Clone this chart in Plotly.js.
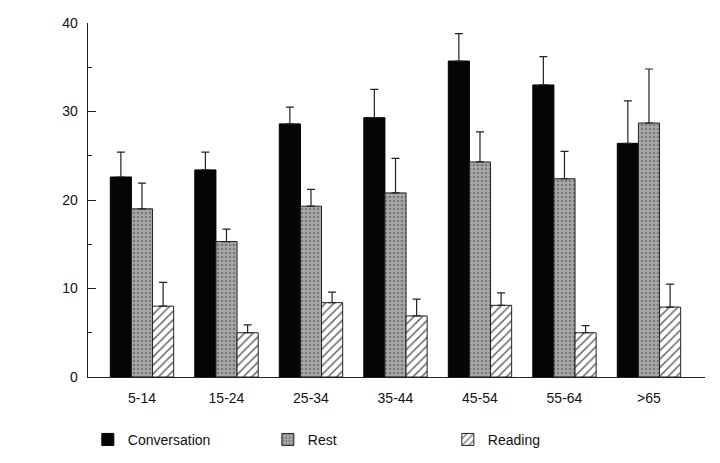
<!DOCTYPE html>
<html>
<head>
<meta charset="utf-8">
<script src="https://cdn.plot.ly/plotly-3.0.1.min.js"></script>
<style>html,body{margin:0;padding:0;background:#fff;}#chart{width:720px;height:463px;}</style>
</head>
<body>
<div id="chart"></div>
<script>
const ageGroups = ['5-14', '15-24', '25-34', '35-44', '45-54', '55-64', '>65'];
const conversation = [22.6, 23.4, 28.6, 29.3, 35.7, 33.0, 26.4];
const conversationErr = [2.8, 2.0, 1.9, 3.2, 3.1, 3.2, 4.8];
const rest = [19.0, 15.3, 19.3, 20.8, 24.3, 22.4, 28.7];
const restErr = [2.9, 1.4, 1.9, 3.9, 3.4, 3.1, 6.1];
const reading = [8.0, 5.0, 8.4, 6.9, 8.1, 5.0, 7.9];
const readingErr = [2.7, 0.9, 1.2, 1.9, 1.4, 0.8, 2.6];
const zeros = ageGroups.map(() => 0);

const errStyle = (arr) => ({type: 'data', symmetric: false, array: arr, arrayminus: zeros,
  color: '#222', thickness: 1.2, width: 4});

const traces = [
  {type: 'bar', name: 'Conversation', x: ageGroups, y: conversation,
   marker: {color: '#050505', line: {color: '#000', width: 1}},
   error_y: errStyle(conversationErr)},
  {type: 'bar', name: 'Rest', x: ageGroups, y: rest,
   marker: {color: '#a2a2a2', line: {color: '#222', width: 1},
            pattern: {shape: '.', fgcolor: '#7a7a7a', bgcolor: '#a8a8a8', size: 4, solidity: 0.35}},
   error_y: errStyle(restErr)},
  {type: 'bar', name: 'Reading', x: ageGroups, y: reading,
   marker: {color: '#ffffff', line: {color: '#222', width: 1},
            pattern: {shape: '/', fgcolor: '#666', bgcolor: '#fff', size: 6, solidity: 0.25}},
   error_y: errStyle(readingErr)}
];

const layout = {
  width: 720, height: 463,
  margin: {l: 88, r: 15, t: 23, b: 86},
  paper_bgcolor: '#fff', plot_bgcolor: '#fff',
  font: {family: 'Liberation Sans, Arial, sans-serif', size: 13, color: '#111'},
  barmode: 'group', bargap: 0.25, bargroupgap: 0,
  showlegend: true,
  legend: {orientation: 'h', xref: 'container', yref: 'container',
           x: 0.122, xanchor: 'left', y: 0.05, yanchor: 'middle',
           entrywidth: 135, entrywidthmode: 'pixels', font: {size: 14},
           traceorder: 'normal'},
  xaxis: {type: 'category', range: [-0.639, 6.663], showline: true, linecolor: '#222', linewidth: 1.3,
          ticks: '', showgrid: false, zeroline: false, tickfont: {size: 14}, ticklabelstandoff: 8},
  yaxis: {range: [0, 40], tickvals: [0, 10, 20, 30, 40], showline: true, linecolor: '#222', linewidth: 1.3,
          ticks: 'inside', ticklen: 8, tickcolor: '#222', tickwidth: 1,
          minor: {tickvals: [5, 15, 25, 35], ticks: 'inside', ticklen: 4, tickcolor: '#222', showgrid: false},
          showgrid: false, zeroline: false, tickfont: {size: 14}, ticklabelstandoff: 6}
};

Plotly.newPlot('chart', traces, layout, {displayModeBar: false, staticPlot: true});
</script>
</body>
</html>
